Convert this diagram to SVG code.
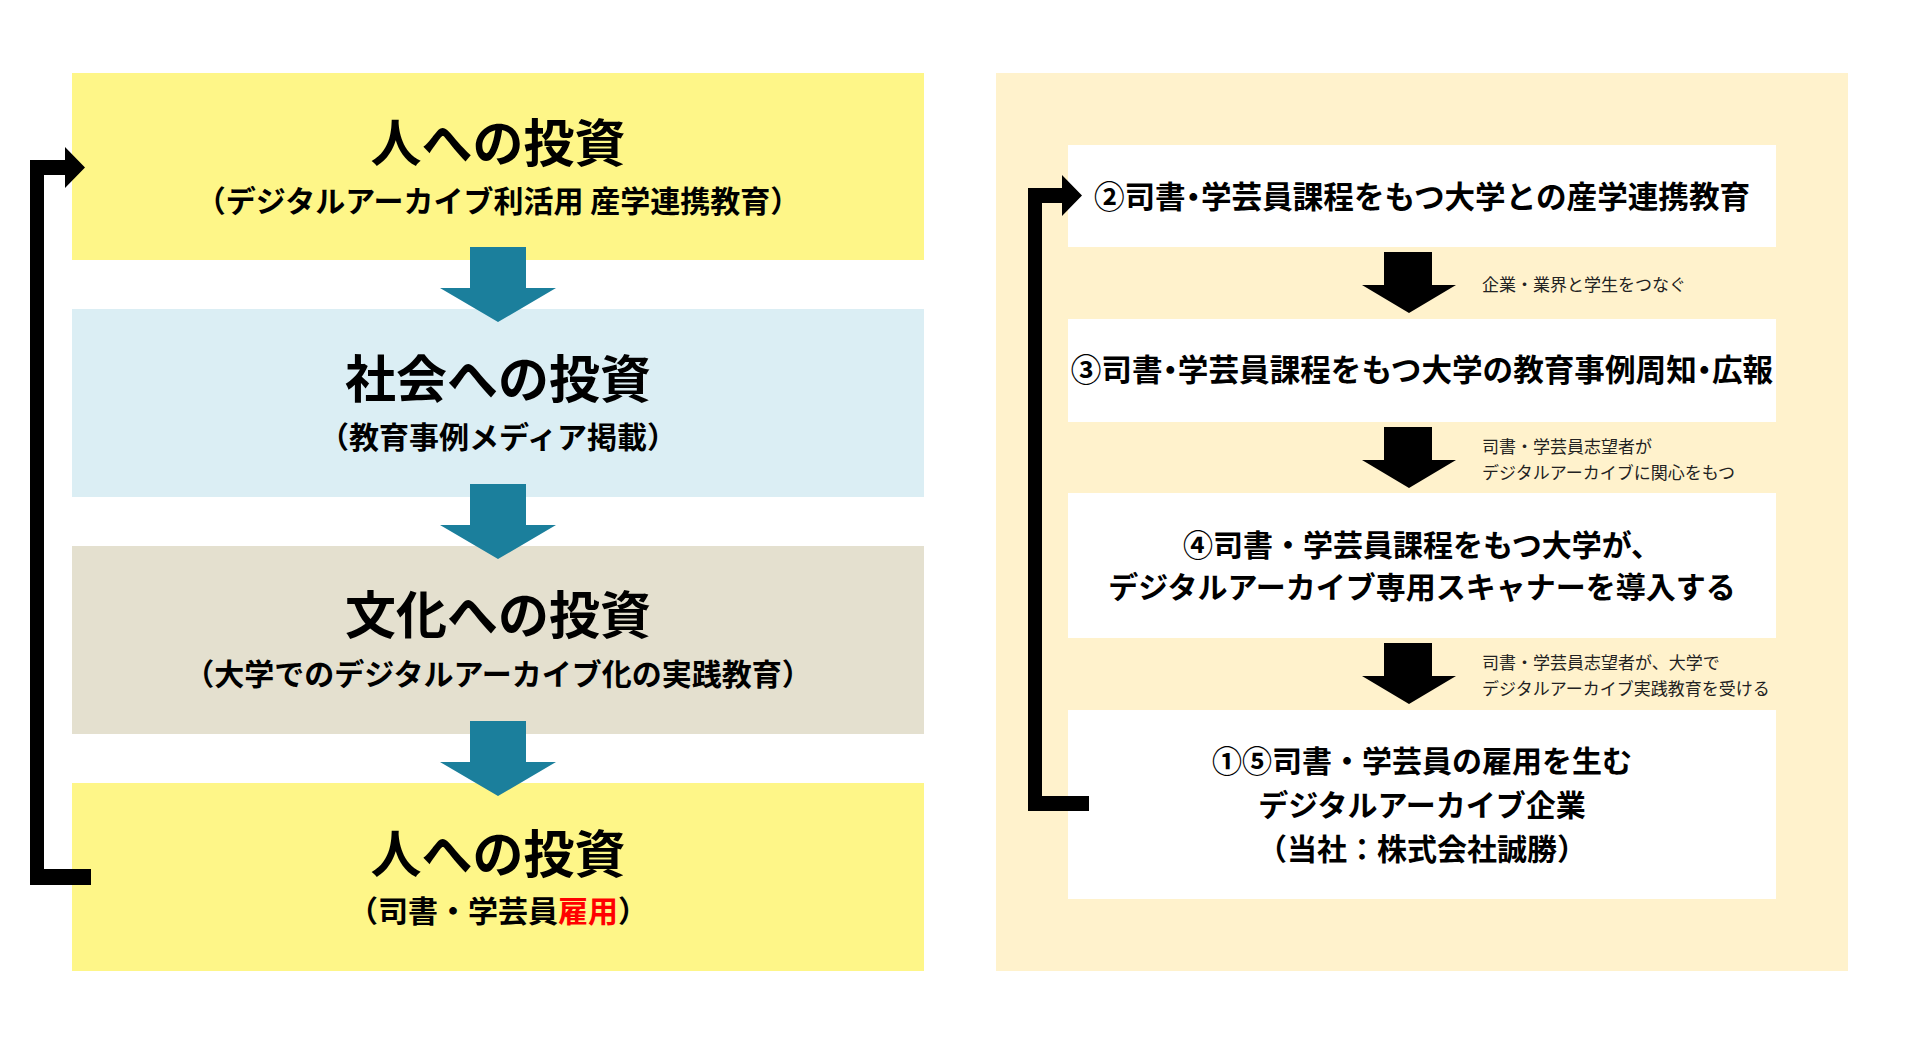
<svg xmlns="http://www.w3.org/2000/svg" width="1920" height="1042" viewBox="0 0 1920 1042">
<style>
text{font-family:"Noto Sans CJK JP","Noto Sans CJK SC",sans-serif;fill:#000;text-anchor:middle}
.t{font-size:51px;font-weight:700}
.s{font-size:30px;font-weight:700}
.r{font-size:30px;font-weight:700}
.w{font-size:30.6px}
.l{font-size:17px;font-weight:400;text-anchor:start;fill:#222}
.p{font-feature-settings:"palt"}
.teal{fill:#1B7F9C}
.blk{fill:#000}
</style>
<rect width="1920" height="1042" fill="#fff"/>
<g id="panel-right"><rect x="996" y="73" width="852" height="898" fill="#FFF2CC"/></g>
<g id="node-people-1"><rect x="72" y="73" width="852" height="187" fill="#FEF688"/>
<text class="t" x="498" y="162">人への投資</text>
<text class="s" x="498" y="212">（デジタルアーカイブ利活用 産学連携教育）</text></g>
<g id="node-society"><rect x="72" y="309" width="852" height="188" fill="#DBEEF4"/>
<text class="t" x="498" y="398">社会への投資</text>
<text class="s" x="498" y="448">（教育事例メディア掲載）</text></g>
<g id="node-culture"><rect x="72" y="546" width="852" height="188" fill="#E4E0CF"/>
<text class="t" x="498" y="634">文化への投資</text>
<text class="s" x="498" y="685">（大学でのデジタルアーカイブ化の実践教育）</text></g>
<g id="node-people-2"><rect x="72" y="783" width="852" height="188" fill="#FEF688"/>
<text class="t" x="498" y="873">人への投資</text>
<text class="s" x="498" y="922">（司書・学芸員<tspan fill="#FF0000">雇用</tspan>）</text></g>
<g id="node-step2"><rect x="1068" y="145" width="708" height="102" fill="#fff"/>
<text class="r w" x="1422" y="208">②司書<tspan class="p">・</tspan>学芸員課程をもつ大学との産学連携教育</text></g>
<g id="node-step3"><rect x="1068" y="319" width="708" height="103" fill="#fff"/>
<text class="r w" x="1422" y="381">③司書<tspan class="p">・</tspan>学芸員課程をもつ大学の教育事例周知<tspan class="p">・</tspan>広報</text></g>
<g id="node-step4"><rect x="1068" y="493" width="708" height="145" fill="#fff"/>
<text class="r" x="1422" y="556">④司書・学芸員課程をもつ大学が、</text>
<text class="r" x="1422" y="598">デジタルアーカイブ専用スキャナーを導入する</text></g>
<g id="node-step15"><rect x="1068" y="710" width="708" height="189" fill="#fff"/>
<text class="r" x="1422" y="772">①⑤司書・学芸員の雇用を生む</text>
<text class="r" x="1422" y="816">デジタルアーカイブ企業</text>
<text class="r" x="1422" y="860">（当社：株式会社誠勝）</text></g>
<g id="connectors">
<path class="teal" d="M470,247H526V288H556L498,322L440,288H470Z"/>
<path class="teal" d="M470,484H526V525H556L498,559L440,525H470Z"/>
<path class="teal" d="M470,721H526V762H556L498,796L440,762H470Z"/>
<path class="blk" d="M1384,252H1432V285H1456L1409,313L1362,285H1384Z"/>
<path class="blk" d="M1384,427H1432V460H1456L1409,488L1362,460H1384Z"/>
<path class="blk" d="M1384,643H1432V676H1456L1409,704L1362,676H1384Z"/>
<path class="blk" d="M91,869H44V175H65V188L85,167.5L65,147V160H30V885H91Z"/>
<path class="blk" d="M1089,796H1042V203H1062V216L1082,195.5L1062,175V188H1028V811H1089Z"/>
<text class="l" x="1482" y="291">企業・業界と学生をつなぐ</text>
<text class="l" x="1482" y="453">司書・学芸員志望者が</text>
<text class="l" x="1482" y="479">デジタルアーカイブに関心をもつ</text>
<text class="l" x="1482" y="669">司書・学芸員志望者が、大学で</text>
<text class="l" x="1482" y="695">デジタルアーカイブ実践教育を受ける</text>
</g>
</svg>
